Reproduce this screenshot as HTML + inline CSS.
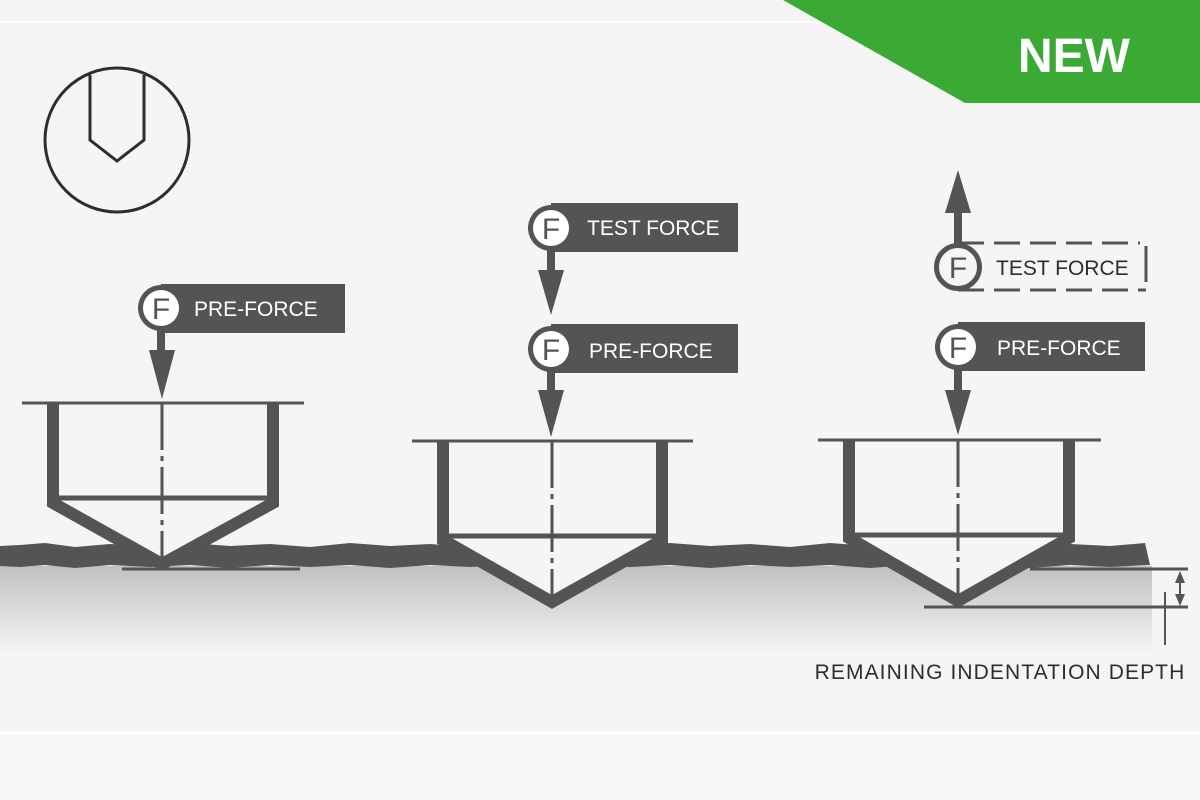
<!DOCTYPE html>
<html><head><meta charset="utf-8"><style>
html,body{margin:0;padding:0;background:#f5f5f5;}
svg{display:block;}
text{font-family:"Liberation Sans",sans-serif;}
</style></head><body>
<svg width="1200" height="800" viewBox="0 0 1200 800" xmlns="http://www.w3.org/2000/svg">
<defs>
<linearGradient id="g" x1="0" y1="0" x2="0" y2="1">
<stop offset="0" stop-color="#bfc0c2"/><stop offset="1" stop-color="#f5f5f5"/>
</linearGradient>
</defs>
<rect width="1200" height="800" fill="#f5f5f5"/>
<line x1="0" y1="22" x2="1200" y2="22" stroke="#ffffff" stroke-width="2"/>
<line x1="0" y1="733" x2="1200" y2="733" stroke="#ffffff" stroke-width="2"/>
<rect x="0" y="734" width="1200" height="66" fill="#f7f7f7"/>

<!-- NEW banner -->
<polygon points="783,0 1200,0 1200,103 965,103" fill="#3aaa35"/>
<text x="1074" y="72" font-size="48" font-weight="bold" fill="#fff" text-anchor="middle">NEW</text>

<!-- icon -->
<circle cx="117" cy="140" r="72" fill="none" stroke="#2d2d2d" stroke-width="3"/>
<path d="M90,75 V140 L117,161 L144,140 V75" fill="none" stroke="#2d2d2d" stroke-width="3"/>

<!-- ground gradient -->
<rect x="0" y="566" width="1152" height="88" fill="url(#g)"/>
<!-- wavy surface band -->
<path d="M0,546 L20,545 L45,543 L75,547 L110,544 L150,546 L190,543 L230,546 L270,544 L310,547 L350,543 L390,546 L430,544 L470,547 L510,543 L550,546 L590,544 L630,547 L670,543 L710,546 L750,544 L790,547 L830,543 L870,546 L910,544 L950,547 L990,543 L1030,546 L1070,544 L1110,546 L1145,543 L1150,565 L1110,567 L1070,565 L1030,568 L990,565 L950,567 L910,565 L870,568 L830,565 L790,567 L750,565 L710,568 L670,565 L630,567 L590,565 L550,568 L510,565 L470,567 L430,565 L390,568 L350,565 L310,567 L270,565 L230,568 L190,565 L150,567 L110,565 L75,568 L45,565 L20,567 L0,566 Z" fill="#535456"/>
<line x1="122" y1="569" x2="300" y2="569" stroke="#535456" stroke-width="3"/>

<g stroke="#535456" fill="none">
<path d="M53,403 V503 L162,564 L273,503 V403" stroke-width="12" fill="#f5f5f5"/>
<line x1="22" y1="403" x2="304" y2="403" stroke-width="3"/>
<line x1="58" y1="498" x2="268" y2="498" stroke-width="5"/>
<line x1="162" y1="403" x2="162" y2="558" stroke-width="3" stroke-dasharray="47 6 5 6"/>
<path d="M443,441 V540 L552,602 L662,540 V441" stroke-width="12" fill="#f5f5f5"/>
<line x1="412" y1="441" x2="693" y2="441" stroke-width="3"/>
<line x1="449" y1="536" x2="657" y2="536" stroke-width="5"/>
<line x1="552" y1="441" x2="552" y2="597" stroke-width="3" stroke-dasharray="47 6 5 6"/>
<path d="M849,440 V538 L958,601 L1069,538 V440" stroke-width="12" fill="#f5f5f5"/>
<line x1="818" y1="440" x2="1101" y2="440" stroke-width="3"/>
<line x1="855" y1="535" x2="1064" y2="535" stroke-width="5"/>
<line x1="958" y1="440" x2="958" y2="596" stroke-width="3" stroke-dasharray="47 6 5 6"/>
<line x1="1030" y1="569" x2="1188" y2="569" stroke-width="3"/>
<line x1="924" y1="607" x2="1188" y2="607" stroke-width="3"/>
<line x1="1180" y1="575" x2="1180" y2="601" stroke-width="2"/>
<line x1="1165" y1="592" x2="1165" y2="645" stroke-width="2"/>
</g>
<polygon points="1175,583 1185,583 1180,571" fill="#535456"/>
<polygon points="1175,594 1185,594 1180,606" fill="#535456"/>
<text x="1000" y="679" font-size="21" fill="#2d2d2d" text-anchor="middle" letter-spacing="1.1">REMAINING INDENTATION DEPTH</text>

<rect x="161" y="284" width="184" height="49" fill="#535456"/>
<rect x="157" y="320" width="8" height="34" fill="#535456"/>
<polygon points="149,350 175,350 162,399" fill="#535456"/>
<circle cx="161" cy="308" r="23" fill="#535456"/>
<circle cx="161" cy="308" r="18" fill="#fff"/>
<text x="161" y="319" font-size="30" fill="#535456" text-anchor="middle">F</text>
<text x="194" y="316" font-size="21" fill="#fff">PRE-FORCE</text>

<rect x="551" y="203" width="187" height="49" fill="#535456"/>
<rect x="547" y="240" width="8" height="42" fill="#535456"/>
<polygon points="538,270 564,270 551,315" fill="#535456"/>
<circle cx="551" cy="228" r="23" fill="#535456"/>
<circle cx="551" cy="228" r="18" fill="#fff"/>
<text x="551" y="239" font-size="30" fill="#535456" text-anchor="middle">F</text>
<text x="587" y="235" font-size="21" fill="#fff">TEST FORCE</text>

<rect x="551" y="324" width="187" height="49" fill="#535456"/>
<rect x="547" y="360" width="8" height="34" fill="#535456"/>
<polygon points="538,390 564,390 551,437" fill="#535456"/>
<circle cx="551" cy="349" r="23" fill="#535456"/>
<circle cx="551" cy="349" r="18" fill="#fff"/>
<text x="551" y="360" font-size="30" fill="#535456" text-anchor="middle">F</text>
<text x="589" y="358" font-size="21" fill="#fff">PRE-FORCE</text>

<rect x="954" y="205" width="8" height="45" fill="#535456"/>
<polygon points="945,213 971,213 958,170" fill="#535456"/>
<path d="M958,243 H1140 M958,290 H1146" stroke="#535456" stroke-width="3" stroke-dasharray="26 10" fill="none"/>
<line x1="1146" y1="246" x2="1146" y2="282" stroke="#535456" stroke-width="3"/>
<circle cx="958" cy="267" r="21.5" fill="#f5f5f5" stroke="#535456" stroke-width="5"/>
<text x="958" y="278" font-size="30" fill="#535456" text-anchor="middle">F</text>
<text x="996" y="275" font-size="21" fill="#2d2d2d">TEST FORCE</text>

<rect x="958" y="322" width="187" height="49" fill="#535456"/>
<rect x="954" y="360" width="8" height="34" fill="#535456"/>
<polygon points="945,390 971,390 958,435" fill="#535456"/>
<circle cx="958" cy="347" r="23" fill="#535456"/>
<circle cx="958" cy="347" r="18" fill="#fff"/>
<text x="958" y="358" font-size="30" fill="#535456" text-anchor="middle">F</text>
<text x="997" y="355" font-size="21" fill="#fff">PRE-FORCE</text>
</svg>
</body></html>
